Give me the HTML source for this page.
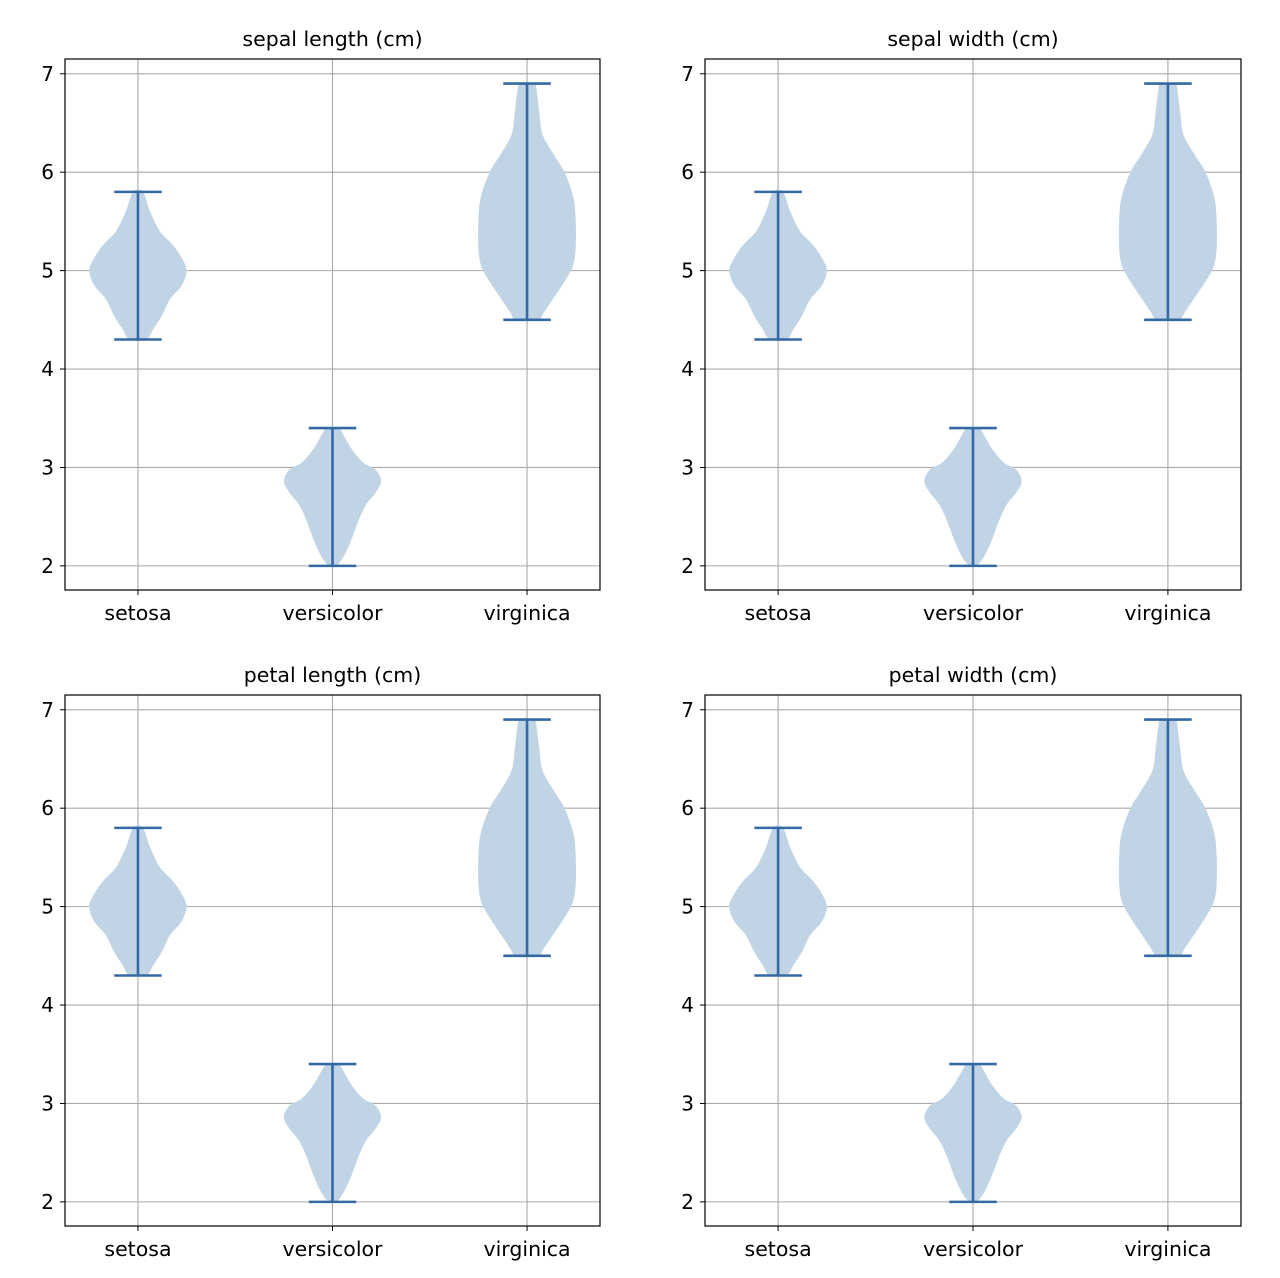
<!DOCTYPE html>
<html><head><meta charset="utf-8">
<style>
html,body{margin:0;padding:0;background:#fff;}
svg{display:block;font-family:"DejaVu Sans","Liberation Sans",sans-serif;}
</style></head>
<body>
<svg id="fig" width="1280" height="1278" xmlns="http://www.w3.org/2000/svg"></svg>
<script>
const panelTitles = ["sepal length (cm)","sepal width (cm)","petal length (cm)","petal width (cm)"];
const categories = ["setosa","versicolor","virginica"];
const yTicks = [2,3,4,5,6,7];
const mins = [4.3, 2.0, 4.5];
const maxs = [5.8, 3.4, 6.9];
// density profiles: value levels and relative half-width (fraction of max)
const setosaLevels = [5.8,5.6,5.4,5.27,5.13,5.0,4.85,4.71,4.54,4.4,4.3];
const setosaWidths = [0.1,0.25,0.45,0.7,0.9,1.0,0.9,0.66,0.49,0.31,0.17];
const versicolorLevels = [3.4,3.37,3.19,3.05,2.98,2.86,2.74,2.63,2.49,2.36,2.22,2.08,2.0];
const versicolorWidths = [0.12,0.18,0.39,0.63,0.88,1.0,0.88,0.7,0.56,0.46,0.35,0.21,0.07];
const virginicaLevels = [6.9,6.89,6.62,6.38,6.17,6.0,5.75,5.51,5.23,5.06,4.92,4.71,4.58,4.5];
const virginicaWidths = [0.15,0.18,0.25,0.32,0.56,0.77,0.95,1,1,0.95,0.81,0.53,0.35,0.22];
const levels = [setosaLevels, versicolorLevels, virginicaLevels];
const widths = [setosaWidths, versicolorWidths, virginicaWidths];

const NS = "http://www.w3.org/2000/svg";
const fig = document.getElementById('fig');
function el(tag, attrs, parent){const e=document.createElementNS(NS,tag);for(const k in attrs)e.setAttribute(k,attrs[k]);(parent||fig).appendChild(e);return e;}
const boxes = [[65,59,600,590],[705,59,1241,590],[65,695,600,1226],[705,695,1241,1226]];
const XMIN=0.625, XMAX=3.375, YMIN=1.755, YMAX=7.15;
const LINE="#3569a3", FILL="#c0d4e6";

boxes.forEach((b,pi)=>{
  const [x0,y0,x1,y1]=b;
  const g=el('g',{});
  
  
  const sx=v=>x0+(v-XMIN)/(XMAX-XMIN)*(x1-x0);
  const sy=v=>y1-(v-YMIN)/(YMAX-YMIN)*(y1-y0);
  yTicks.forEach(t=>{
    const l=el('line',{x1:x0,x2:x1,y1:sy(t),y2:sy(t),stroke:'#aaaaaa','stroke-width':1.1},g);
    
    
  });
  categories.forEach((c,i)=>{
    const l=el('line',{x1:sx(i+1),x2:sx(i+1),y1:y0,y2:y1,stroke:'#aaaaaa','stroke-width':1.1},g);
    
    
  });
  categories.forEach((c,i)=>{
    const cx=i+1, L=levels[i], W=widths[i];
    const pts=[];
    L.forEach((v,k)=>pts.push([sx(cx+0.25*W[k]),sy(v)]));
    for(let k=L.length-1;k>=0;k--)pts.push([sx(cx-0.25*W[k]),sy(L[k])]);
    let d='M'+pts[0][0]+','+pts[0][1];
    const n=pts.length;
    for(let k=0;k<n;k++){
      const p0=pts[(k-1+n)%n],p1=pts[k],p2=pts[(k+1)%n],p3=pts[(k+2)%n];
      const c1=[p1[0]+(p2[0]-p0[0])/6,p1[1]+(p2[1]-p0[1])/6];
      const c2=[p2[0]-(p3[0]-p1[0])/6,p2[1]-(p3[1]-p1[1])/6];
      d+=' C'+c1+' '+c2+' '+p2;
    }
    const body=el('path',{d:d,fill:FILL,stroke:'none'},g);
    
    
    const stem=el('line',{x1:sx(cx),x2:sx(cx),y1:sy(mins[i]),y2:sy(maxs[i]),stroke:LINE,'stroke-width':2.6},g);
    
    
    [mins[i],maxs[i]].forEach(v=>{
      const cap=el('line',{x1:sx(cx-0.122),x2:sx(cx+0.122),y1:sy(v),y2:sy(v),stroke:LINE,'stroke-width':2.6},g);
      
      
    });
    const tk=el('line',{x1:sx(cx),x2:sx(cx),y1:y1,y2:y1+5,stroke:'#000','stroke-width':1},g);
    
    
    const lb=el('text',{x:sx(cx),y:y1+30,'text-anchor':'middle','font-size':'20.5'},g);
    lb.textContent=c;
    
    
  });
  yTicks.forEach(t=>{
    const tk=el('line',{x1:x0-5,x2:x0,y1:sy(t),y2:sy(t),stroke:'#000','stroke-width':1},g);
    
    
    const lb=el('text',{x:x0-11,y:sy(t)+7,'text-anchor':'end','font-size':'20'},g);
    lb.textContent=t;
    
    
  });
  const fr=el('rect',{x:x0,y:y0,width:x1-x0,height:y1-y0,fill:'none',stroke:'#000','stroke-width':1.2},g);
  
  
  const tt=el('text',{x:(x0+x1)/2,y:y0-13,'text-anchor':'middle','font-size':'20.5'},g);
  tt.textContent=panelTitles[pi];
  
  
});
</script>
</body></html>
